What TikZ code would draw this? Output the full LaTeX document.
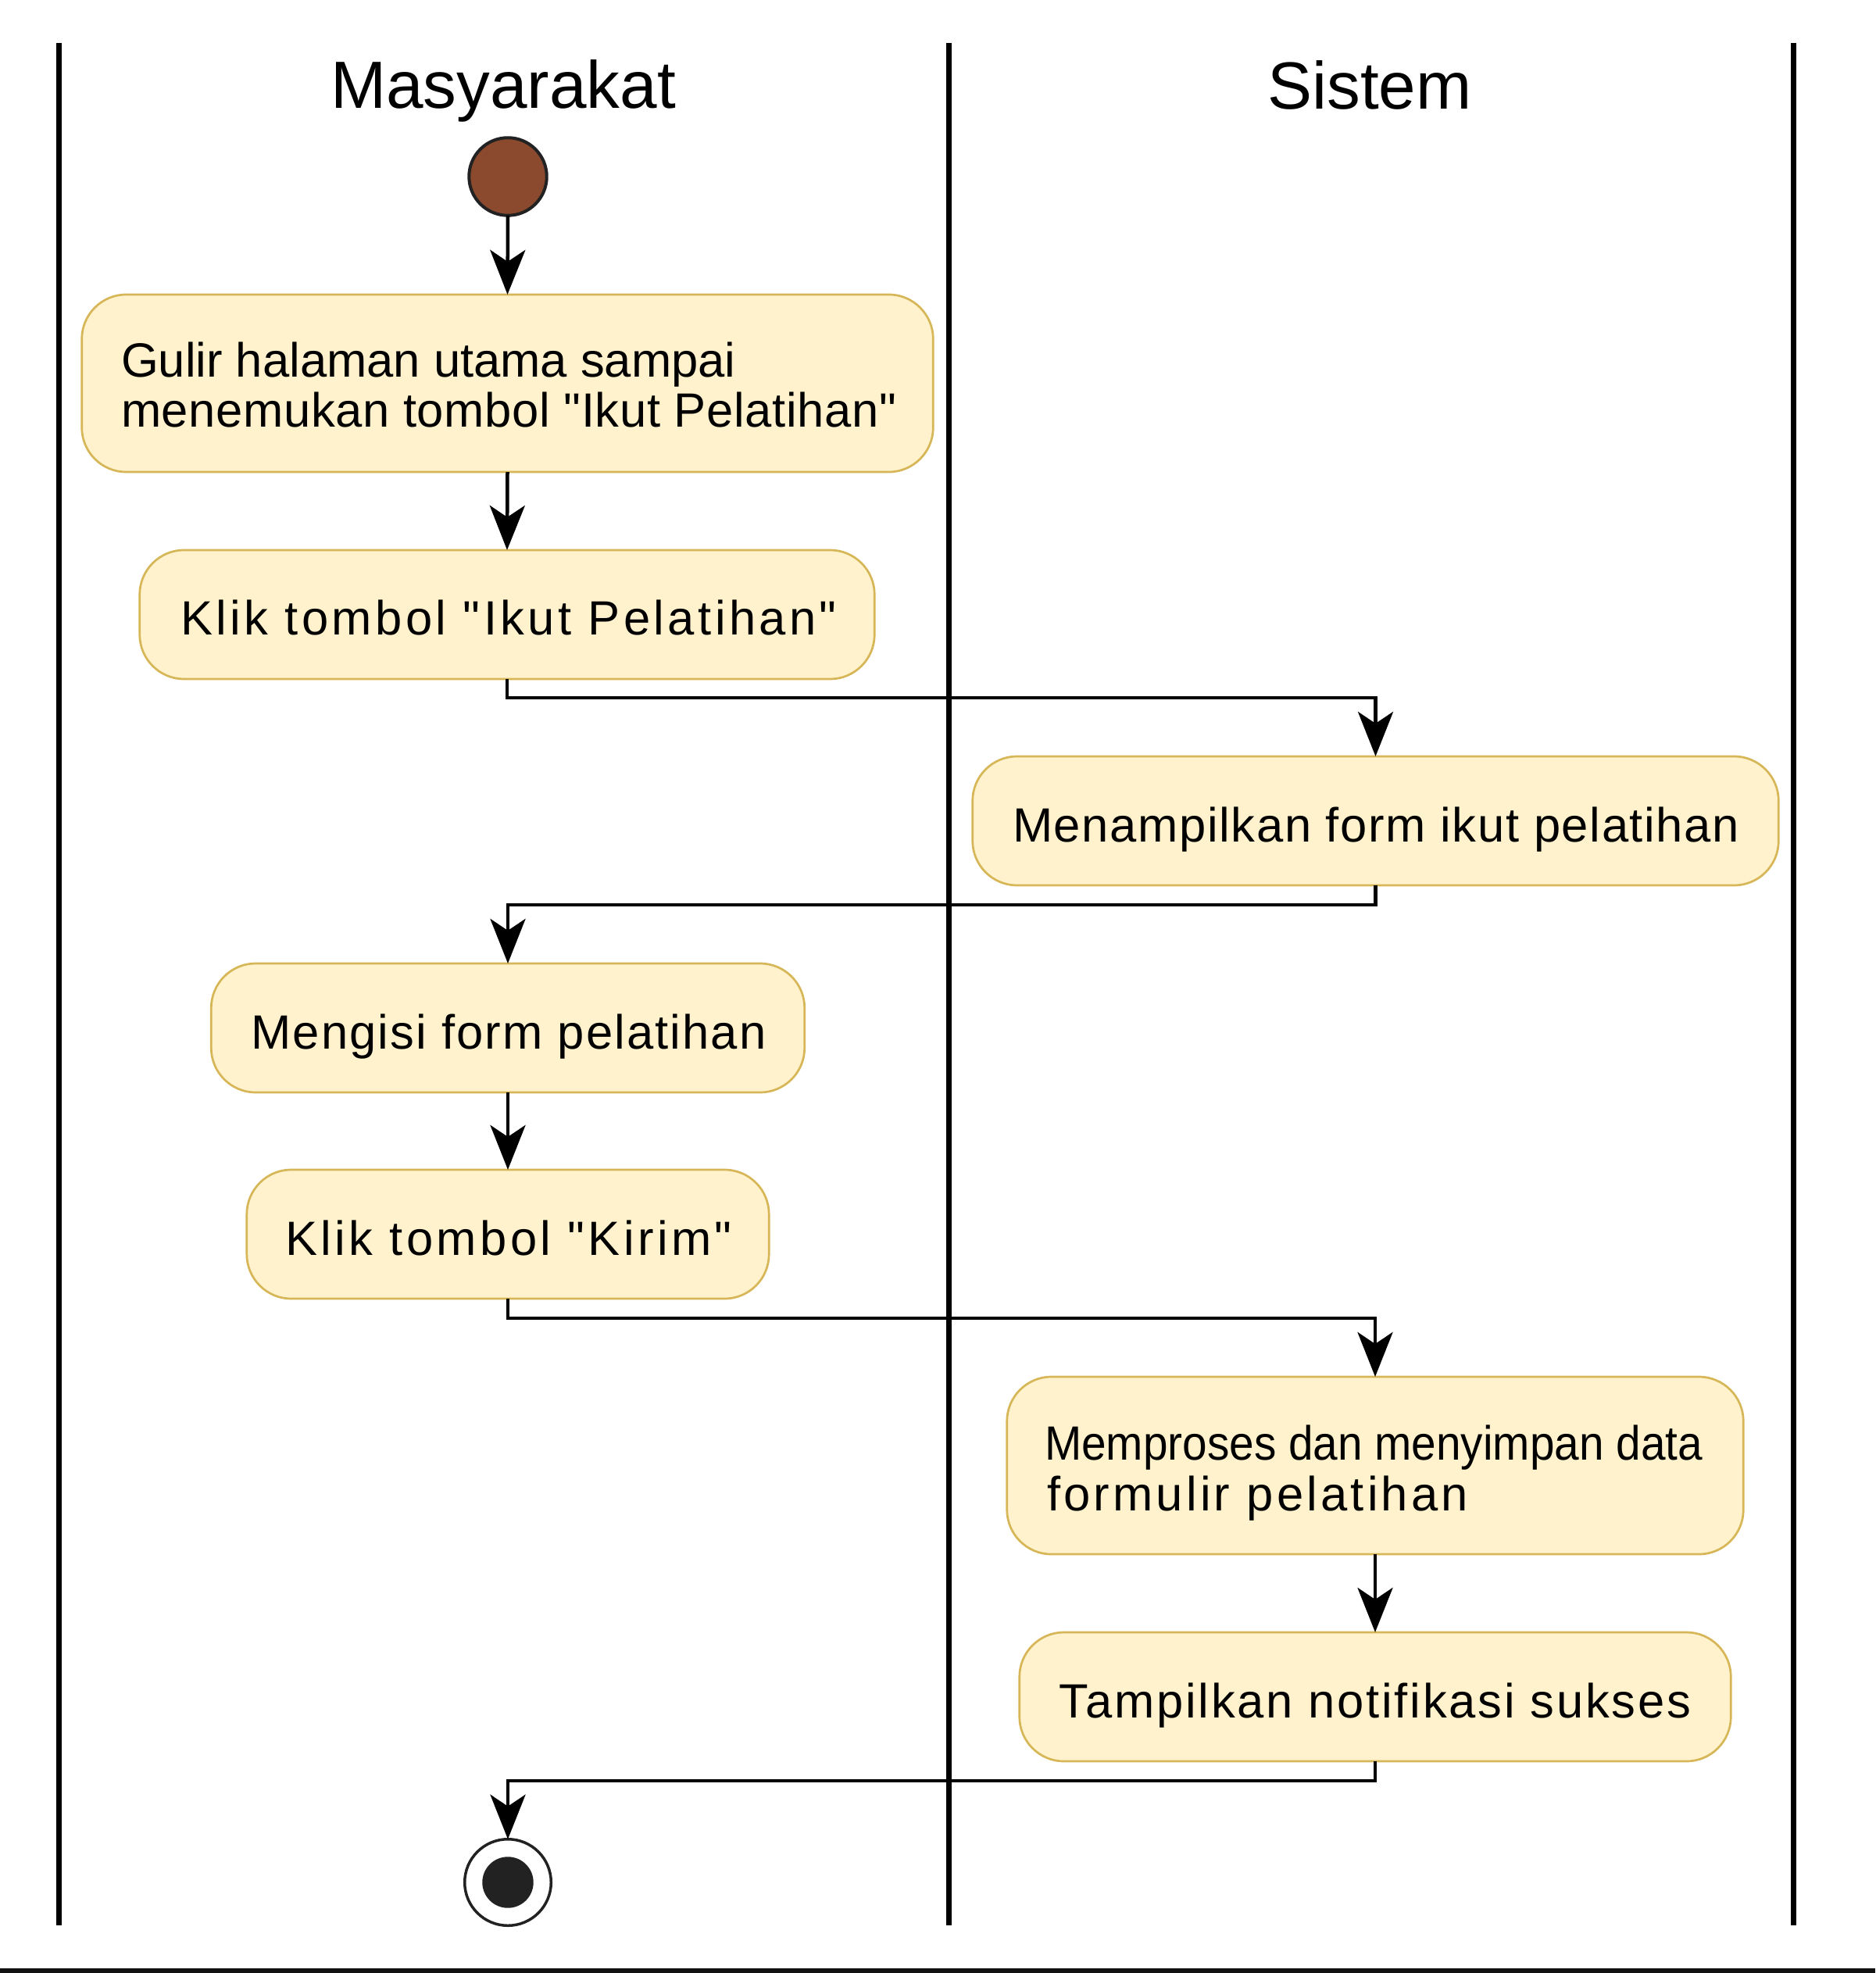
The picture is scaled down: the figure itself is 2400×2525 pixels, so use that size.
\documentclass[tikz,border=0pt]{standalone}
\usepackage{fontspec}
\usepackage{graphicx}
\setmainfont{Liberation Sans}[Ligatures=TeXOff]
\usetikzlibrary{arrows.meta}
\definecolor{boxfill}{HTML}{FFF2CC}
\definecolor{boxline}{HTML}{D6B656}
\definecolor{startfill}{HTML}{8B4A2E}
\definecolor{darkring}{HTML}{222222}
\newcommand{\bodyfont}{\fontsize{17.5pt}{18pt}\selectfont}
\newcommand{\titlefont}{\fontsize{24.3pt}{26pt}\selectfont}
\newcommand{\lsp}[2]{{\addfontfeatures{LetterSpace=#1}#2}}
\tikzset{
  act/.style={draw=boxline, fill=boxfill, line width=0.027cm, rounded corners=0.57cm,
    inner sep=0pt, outer sep=0pt, rectangle},
  txt/.style={inner sep=0pt, outer sep=0pt, font=\bodyfont, text=black},
  lanetitle/.style={inner sep=0pt, outer sep=0pt, font=\titlefont, text=black},
  lane/.style={line width=0.07cm, black},
  flow/.style={line width=0.045cm, black, -{Stealth[length=0.57cm, width=0.45cm, inset=0.15cm]}},
}
\begin{document}
\begin{tikzpicture}[x=0.01cm, y=-0.01cm]
\useasboundingbox (0,0) rectangle (2400,2525);
% swimlane borders
\coordinate (l1t) at (75.5,55);   \coordinate (l1b) at (75.5,2464);
\coordinate (l2t) at (1214.5,55); \coordinate (l2b) at (1214.5,2464);
\coordinate (l3t) at (2295,55);   \coordinate (l3b) at (2295,2464);
\draw[lane] (l1t) -- (l1b);
\draw[lane] (l2t) -- (l2b);
\draw[lane] (l3t) -- (l3b);
\coordinate (bl) at (0,2522); \coordinate (br) at (2400,2522);
\draw[line width=0.06cm, color={rgb,255:red,17;green,17;blue,17}] (bl) -- (br);
% titles
\node[lanetitle, anchor=base] (tMas) at (644,139) {Masyarakat};
\node[lanetitle, anchor=base] (tSis) at (1753,140) {Sistem};
% start
\node[circle, draw=darkring, fill=startfill, line width=0.04cm, minimum size=0.994cm, inner sep=0pt, outer sep=0pt] (start) at (650,226) {};
% activity boxes
\node[act, minimum width=10.89cm, minimum height=2.27cm] (b1) at (649.5,490.5) {};
\node[act, minimum width=9.40cm, minimum height=1.65cm] (b2) at (649,786.5) {};
\node[act, minimum width=10.31cm, minimum height=1.65cm] (b3) at (1760.5,1050.5) {};
\node[act, minimum width=7.59cm, minimum height=1.65cm] (b4) at (650,1315.5) {};
\node[act, minimum width=6.68cm, minimum height=1.65cm] (b5) at (650,1579.5) {};
\node[act, minimum width=9.42cm, minimum height=2.27cm] (b6) at (1760,1875.5) {};
\node[act, minimum width=9.10cm, minimum height=1.65cm] (b7) at (1760,2171.5) {};
% texts
\node[txt, anchor=base west] (t1a) at (155,483) {Gulir halaman utama sampai};
\node[txt, anchor=base west] (t1b) at (155,547) {\lsp{1.0}{menemukan tombol "Ikut Pelatihan"}};
\node[txt, anchor=base] (t2) at (651,813) {\lsp{7.1}{Klik tombol "Ikut Pelatihan"}};
\node[txt, anchor=base] (t3) at (1761,1077) {\lsp{2.65}{Menampilkan form ikut pelatihan}};
\node[txt, anchor=base] (t4) at (651,1342) {\lsp{3.4}{Mengisi form pelatihan}};
\node[txt, anchor=base] (t5) at (651,1606) {\lsp{7.1}{Klik tombol "Kirim"}};
\node[txt, anchor=base west] (t6a) at (1337,1868) {\scalebox{0.922}[1]{Memproses dan menyimpan data}};
\node[txt, anchor=base west] (t6b) at (1340,1933) {\lsp{6.8}{formulir pelatihan}};
\node[txt, anchor=base] (t7) at (1760,2198) {\lsp{4.5}{Tampilkan notifikasi sukses}};
% end
\node[circle, draw=darkring, fill=white, line width=0.035cm, minimum size=1.105cm, inner sep=0pt, outer sep=0pt] (finish) at (650,2409) {};
\node[circle, fill=darkring, minimum size=0.654cm, inner sep=0pt, outer sep=0pt] (finishdot) at (finish.center) {};
% flows
\draw[flow] (start.south) -- (b1.north);
\draw[flow] (b1.south) -- (b2.north);
\draw[flow] (b2.south) -- ++(0,24) -| (b3.north);
\draw[flow] (b3.south) -- ++(0,25) -| (b4.north);
\draw[flow] (b4.south) -- (b5.north);
\draw[flow] (b5.south) -- ++(0,25) -| (b6.north);
\draw[flow] (b6.south) -- (b7.north);
\draw[flow] (b7.south) -- ++(0,25) -| (finish.north);
\end{tikzpicture}
\end{document}
